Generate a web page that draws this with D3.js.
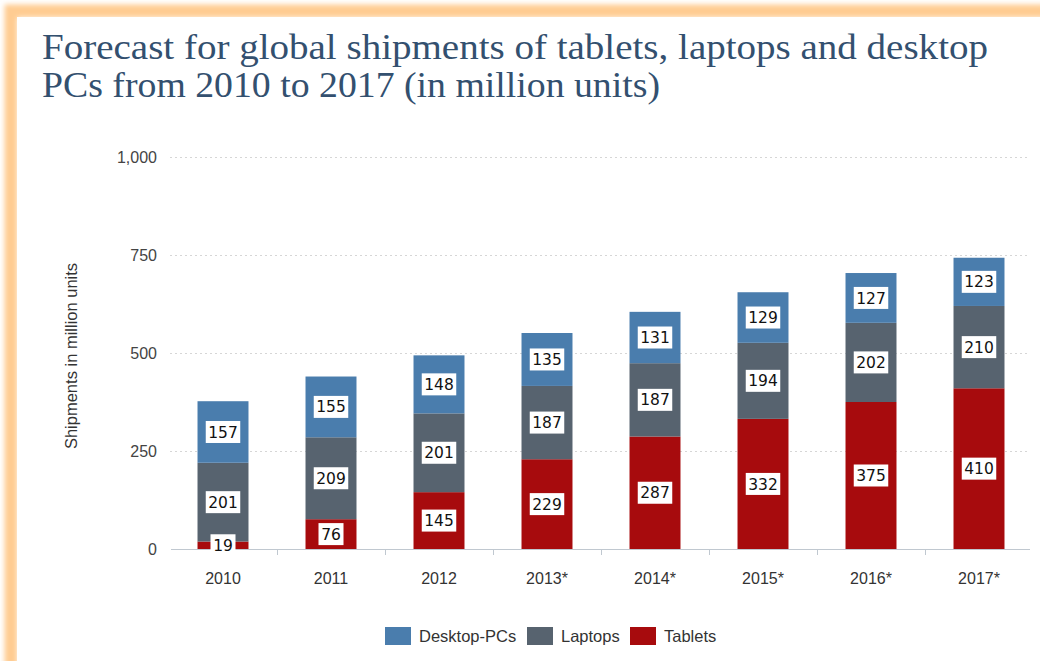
<!DOCTYPE html>
<html>
<head>
<meta charset="utf-8">
<script src="https://cdn.jsdelivr.net/npm/d3@7"></script>
<style>
  html, body { margin: 0; padding: 0; background: #ffffff; }
  svg { display: block; }
</style>
</head>
<body>
<svg id="chart" width="1040" height="661"></svg>
<script>
// Shipments in million units, stacked bottom-up: tablets, laptops, desktop PCs
const years    = ["2010", "2011", "2012", "2013*", "2014*", "2015*", "2016*", "2017*"];
const tablets  = [19, 76, 145, 229, 287, 332, 375, 410];
const laptops  = [201, 209, 201, 187, 187, 194, 202, 210];
const desktops = [157, 155, 148, 135, 131, 129, 127, 123];
const yTicks   = [0, 250, 500, 750, 1000];

const seriesNames  = ["Desktop-PCs", "Laptops", "Tablets"];
const seriesColors = { "Tablets": "#a70b0d", "Laptops": "#57636f", "Desktop-PCs": "#4a7dad" };

const svg = d3.select("#chart");
const sans = "'Liberation Sans', Arial, sans-serif";

// Soft orange frame around the white panel
const defs = svg.append("defs");
defs.append("filter").attr("id", "glow")
  .attr("x", "-10%").attr("y", "-10%").attr("width", "120%").attr("height", "120%")
  .append("feGaussianBlur").attr("stdDeviation", 2.5);
svg.append("rect")
  .attr("x", 11).attr("y", 11).attr("width", 1100).attr("height", 700)
  .attr("fill", "none").attr("stroke", "#ffcc92").attr("stroke-width", 13)
  .attr("filter", "url(#glow)");
svg.append("rect")
  .attr("x", 17).attr("y", 17).attr("width", 1100).attr("height", 700)
  .attr("fill", "#ffffff");

// Title
const titleLines = [
  "Forecast for global shipments of tablets, laptops and desktop",
  "PCs from 2010 to 2017 (in million units)"
];
const titleLengths = [946, 618];
svg.append("g").selectAll("text").data(titleLines).join("text")
  .attr("x", 42).attr("y", (d, i) => 59 + i * 38)
  .attr("font-family", "'Liberation Serif', 'DejaVu Serif', serif")
  .attr("font-size", 35)
  .attr("fill", "#33506f")
  .attr("textLength", (d, i) => titleLengths[i])
  .attr("lengthAdjust", "spacingAndGlyphs")
  .text(d => d);

// Scales
const x = d3.scaleBand().domain(years).range([169, 1033])
  .paddingInner(0.528).paddingOuter(0.264);
const y = d3.scaleLinear().domain([0, 1000]).range([549, 157]);

// Dotted gridlines
svg.append("g").selectAll("line").data(yTicks.filter(t => t > 0)).join("line")
  .attr("x1", 170).attr("x2", 1030)
  .attr("y1", d => y(d) + 0.5).attr("y2", d => y(d) + 0.5)
  .attr("stroke", "#d6d6d6").attr("stroke-width", 1)
  .attr("stroke-dasharray", "2,3");

// Y axis labels
const yAxis = d3.axisLeft(y).tickValues(yTicks).tickSize(0).tickPadding(0)
  .tickFormat(d3.format(","));
svg.append("g").attr("transform", "translate(157,0)").call(yAxis)
  .call(g => g.select(".domain").remove())
  .call(g => g.selectAll("text")
    .attr("font-family", sans)
    .attr("font-size", 16).attr("fill", "#444"));

// Y axis title
svg.append("text")
  .attr("transform", "translate(77,356) rotate(-90)")
  .attr("text-anchor", "middle")
  .attr("font-family", sans)
  .attr("font-size", 16.5).attr("fill", "#333")
  .text("Shipments in million units");

// Stacked bars
const rows = years.map((yr, i) => ({
  year: yr, "Tablets": tablets[i], "Laptops": laptops[i], "Desktop-PCs": desktops[i]
}));
const stack = d3.stack().keys(["Tablets", "Laptops", "Desktop-PCs"]);
const layers = stack(rows);

const layerG = svg.append("g").selectAll("g").data(layers).join("g")
  .attr("fill", d => seriesColors[d.key]);
layerG.selectAll("rect").data(d => d).join("rect")
  .attr("x", d => x(d.data.year))
  .attr("width", x.bandwidth())
  .attr("y", d => y(d[1]))
  .attr("height", d => y(d[0]) - y(d[1]));

// X axis baseline and category ticks
svg.append("line")
  .attr("x1", 171).attr("x2", 1030).attr("y1", 549.5).attr("y2", 549.5)
  .attr("stroke", "#c0c8d0").attr("stroke-width", 1);
const boundaries = years.slice(1).map(yr => x(yr) - x.step() * x.paddingInner() / 2);
svg.append("g").selectAll("line").data(boundaries).join("line")
  .attr("x1", d => Math.round(d) + 0.5).attr("x2", d => Math.round(d) + 0.5)
  .attr("y1", 550).attr("y2", 555)
  .attr("stroke", "#c0c8d0");

const xAxis = d3.axisBottom(x).tickSize(0).tickPadding(0);
svg.append("g").attr("transform", "translate(0,573)").call(xAxis)
  .call(g => g.select(".domain").remove())
  .call(g => g.selectAll("text")
    .attr("font-family", sans)
    .attr("font-size", 16).attr("fill", "#333"));

// Value labels in white boxes at the middle of each segment
const labelFont = "'DejaVu Sans', Verdana, sans-serif";
const labels = [];
layers.forEach(layer => layer.forEach(d => {
  labels.push({
    cx: x(d.data.year) + x.bandwidth() / 2,
    cy: (y(d[0]) + y(d[1])) / 2,
    value: d[1] - d[0]
  });
}));
const lab = svg.append("g").selectAll("g").data(labels).join("g")
  .attr("transform", d => `translate(${d.cx},${d.cy})`);
lab.append("rect")
  .attr("x", d => -(String(d.value).length * 9.5 + 6) / 2)
  .attr("width", d => String(d.value).length * 9.5 + 6)
  .attr("y", -11).attr("height", 22)
  .attr("fill", "#ffffff");
lab.append("text")
  .attr("text-anchor", "middle").attr("dy", "0.36em")
  .attr("font-family", labelFont).attr("font-size", 15.5)
  .attr("fill", "#111")
  .text(d => d.value);

// Legend
const legendX = [385, 527, 630];
const legend = svg.append("g").selectAll("g").data(seriesNames).join("g")
  .attr("transform", (d, i) => `translate(${legendX[i]},627)`);
legend.append("rect")
  .attr("width", 26).attr("height", 18)
  .attr("fill", d => seriesColors[d]);
legend.append("text")
  .attr("x", 34).attr("y", 9).attr("dy", "0.35em")
  .attr("font-family", sans)
  .attr("font-size", 16.5).attr("fill", "#333")
  .text(d => d);
</script>
</body>
</html>
